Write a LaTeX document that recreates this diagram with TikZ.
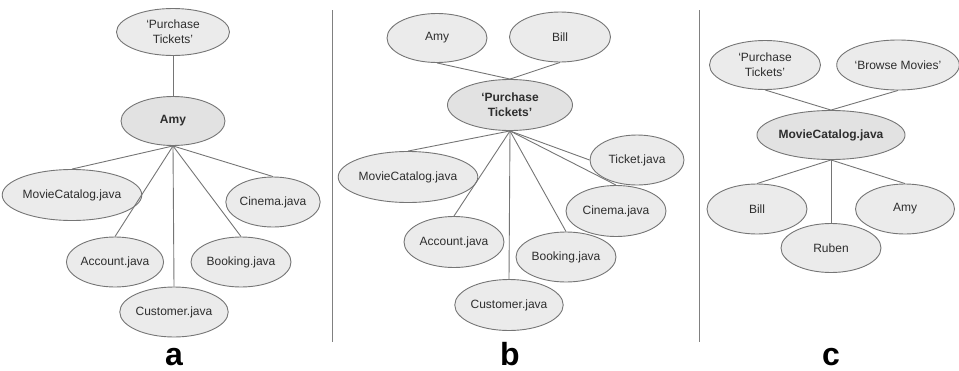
\documentclass[tikz,border=0pt]{standalone}
\usepackage{fontspec}
\setmainfont{Liberation Sans}
\usetikzlibrary{shapes.geometric}
\definecolor{ovalfill}{HTML}{EBEBEB}
\definecolor{hubfill}{HTML}{E2E2E2}
\definecolor{edgegray}{HTML}{757575}
\definecolor{txtgray}{HTML}{2E2E2E}
\tikzset{
  oval/.style={ellipse, draw=edgegray, fill=ovalfill, line width=0.9pt, inner sep=0pt,
    text=txtgray, align=center, font=\fontsize{12}{15}\selectfont},
  hubnode/.style={oval, fill=hubfill, font=\fontsize{12}{15}\selectfont\bfseries},
  link/.style={draw=edgegray, line width=0.9pt},
  divider/.style={draw=gray, line width=1pt},
  panellabel/.style={anchor=base, inner sep=0pt, font=\fontsize{32}{32}\selectfont\bfseries}
}
\begin{document}
\begin{tikzpicture}[x=1pt, y=-1pt]
\useasboundingbox (0,0) rectangle (959,370);

% ---- panel a ----
\node[oval, minimum width=113pt, minimum height=47pt] (a-pt) at (173,32) {`Purchase\\Tickets'};
\node[hubnode, minimum width=104pt, minimum height=49pt] (a-amy) at (173,121) {Amy};
\node[oval, minimum width=135pt, minimum height=51pt] (a-mc) at (72,195) {MovieCatalog.java};
\node[oval, minimum width=91pt, minimum height=50pt] (a-cin) at (273,202) {Cinema.java};
\node[oval, minimum width=92pt, minimum height=50pt] (a-acc) at (115,262) {Account.java};
\node[oval, minimum width=100pt, minimum height=50pt] (a-book) at (241,262) {Booking.java};
\node[oval, minimum width=99pt, minimum height=50pt] (a-cust) at (174,312) {Customer.java};
\node[panellabel] (a-lbl) at (174,365) {a};

\draw[link] (a-pt.south) -- (a-amy.north);
\draw[link] (a-amy.south) -- (a-mc.north);
\draw[link] (a-amy.south) -- (a-cin.north);
\draw[link] (a-amy.south) -- (a-acc.north);
\draw[link] (a-amy.south) -- (a-book.north);
\draw[link] (a-amy.south) -- (a-cust.north);

% ---- divider ----
\coordinate (d1-top) at (332,10);
\coordinate (d1-bot) at (332,342);
\draw[divider] (d1-top) -- (d1-bot);

% ---- panel b ----
\node[oval, minimum width=100pt, minimum height=49pt] (b-amy) at (437,38) {Amy};
\node[oval, minimum width=101pt, minimum height=50pt] (b-bill) at (560,37) {Bill};
\node[hubnode, minimum width=125pt, minimum height=51pt] (b-pt) at (510,105) {`Purchase\\Tickets'};
\node[oval, minimum width=132pt, minimum height=51pt] (b-mc) at (408,177) {MovieCatalog.java};
\node[oval, minimum width=94pt, minimum height=50pt] (b-tick) at (637,160) {Ticket.java};
\node[oval, minimum width=100pt, minimum height=51pt] (b-cin) at (616,211) {Cinema.java};
\node[oval, minimum width=100pt, minimum height=51pt] (b-acc) at (454,242) {Account.java};
\node[oval, minimum width=100pt, minimum height=50pt] (b-book) at (566,257) {Booking.java};
\node[oval, minimum width=101pt, minimum height=51pt] (b-cust) at (509,305) {Customer.java};
\node[panellabel] (b-lbl) at (510,365) {b};

\draw[link] (b-amy.south) -- (b-pt.north);
\draw[link] (b-bill.south) -- (b-pt.north);
\draw[link] (b-pt.south) -- (b-mc.north);
\draw[link] (b-pt.south) -- (b-tick.west);
\draw[link] (b-pt.south) -- (b-cin.north);
\draw[link] (b-pt.south) -- (b-acc.north);
\draw[link] (b-pt.south) -- (b-book.north);
\draw[link] (b-pt.south) -- (b-cust.north);

% ---- divider ----
\coordinate (d2-top) at (699,10);
\coordinate (d2-bot) at (699,342);
\draw[divider] (d2-top) -- (d2-bot);

% ---- panel c ----
\node[oval, minimum width=111pt, minimum height=49pt] (c-pt) at (765,65) {`Purchase\\Tickets'};
\node[oval, minimum width=119pt, minimum height=50pt] (c-bm) at (898,65) {`Browse Movies'};
\node[hubnode, minimum width=138pt, minimum height=49pt] (c-mc) at (831,135) {MovieCatalog.java};
\node[oval, minimum width=100pt, minimum height=50pt] (c-bill) at (757,209) {Bill};
\node[oval, minimum width=99pt, minimum height=50pt] (c-amy) at (905,209) {Amy};
\node[oval, minimum width=100pt, minimum height=49pt] (c-rub) at (831,248) {Ruben};
\node[panellabel] (c-lbl) at (831,365) {c};

\draw[link] (c-pt.south) -- (c-mc.north);
\draw[link] (c-bm.south) -- (c-mc.north);
\draw[link] (c-mc.south) -- (c-bill.north);
\draw[link] (c-mc.south) -- (c-rub.north);
\draw[link] (c-mc.south) -- (c-amy.north);
\end{tikzpicture}
\end{document}
